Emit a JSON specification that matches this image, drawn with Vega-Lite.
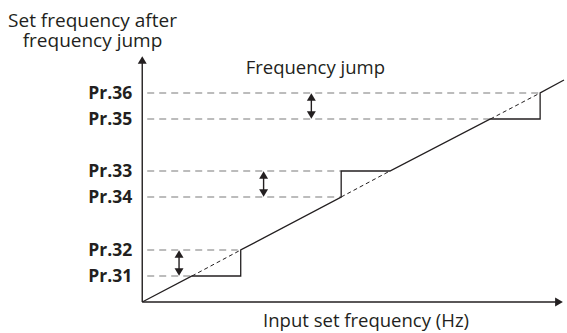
{
  "$schema": "https://vega.github.io/schema/vega-lite/v6.json",
  "width": 567,
  "height": 333,
  "autosize": {"type": "fit", "contains": "padding"},
  "padding": 0,
  "background": "white",
  "config": {"view": {"stroke": null}},
  "encoding": {
    "x": {"type": "quantitative", "scale": {"domain": [-143, 424], "nice": false, "zero": false}, "axis": null},
    "y": {"type": "quantitative", "scale": {"domain": [-31, 302], "nice": false, "zero": false}, "axis": null}
  },
  "layer": [
    {
      "data": {"values": [
        {"label": "Pr.36", "y": 209, "x0": 5, "x1": 400},
        {"label": "Pr.35", "y": 183, "x0": 5, "x1": 350},
        {"label": "Pr.33", "y": 131, "x0": 5, "x1": 200},
        {"label": "Pr.34", "y": 105, "x0": 5, "x1": 200},
        {"label": "Pr.32", "y": 52, "x0": 5, "x1": 96},
        {"label": "Pr.31", "y": 26, "x0": 5, "x1": 50}
      ]},
      "mark": {"type": "rule", "color": "#7a7a7a", "strokeWidth": 1.2, "strokeDash": [7, 5]},
      "encoding": {"x": {"field": "x0"}, "x2": {"field": "x1"}, "y": {"field": "y"}}
    },
    {
      "data": {"values": [
        {"label": "Pr.36", "y": 209},
        {"label": "Pr.35", "y": 183},
        {"label": "Pr.33", "y": 131},
        {"label": "Pr.34", "y": 105},
        {"label": "Pr.32", "y": 52},
        {"label": "Pr.31", "y": 26}
      ]},
      "mark": {"type": "text", "align": "right", "baseline": "middle", "font": "Open Sans", "fontWeight": "bold", "fontSize": 17.5, "color": "#231f20", "dy": 1},
      "encoding": {"x": {"datum": -10}, "y": {"field": "y"}, "text": {"field": "label"}}
    },
    {
      "data": {"values": [
        {"x": 50, "y": 26, "x2": 99, "y2": 52},
        {"x": 200, "y": 105, "x2": 249, "y2": 131},
        {"x": 350, "y": 183, "x2": 400, "y2": 209}
      ]},
      "mark": {"type": "rule", "color": "#231f20", "strokeWidth": 1, "strokeDash": [4, 3]},
      "encoding": {"x": {"field": "x"}, "y": {"field": "y"}, "x2": {"field": "x2"}, "y2": {"field": "y2"}}
    },
    {
      "data": {"values": [
        {"i": 0, "x": 0, "y": 0},
        {"i": 1, "x": 50, "y": 26},
        {"i": 2, "x": 99, "y": 26},
        {"i": 3, "x": 99, "y": 52},
        {"i": 4, "x": 200, "y": 105},
        {"i": 5, "x": 200, "y": 131},
        {"i": 6, "x": 249, "y": 131},
        {"i": 7, "x": 350, "y": 183},
        {"i": 8, "x": 400, "y": 183},
        {"i": 9, "x": 400, "y": 209},
        {"i": 10, "x": 424, "y": 222}
      ]},
      "mark": {"type": "line", "color": "#231f20", "strokeWidth": 1.3},
      "encoding": {"x": {"field": "x"}, "y": {"field": "y"}, "order": {"field": "i"}}
    },
    {
      "data": {"values": [
        {"x": 0, "y": 0, "x2": 0, "y2": 240},
        {"x": 0, "y": 0, "x2": 418, "y2": 0},
        {"x": 37, "y": 29, "x2": 37, "y2": 49},
        {"x": 122, "y": 108, "x2": 122, "y2": 128},
        {"x": 170, "y": 186, "x2": 170, "y2": 206}
      ]},
      "mark": {"type": "rule", "color": "#231f20", "strokeWidth": 1.4},
      "encoding": {"x": {"field": "x"}, "y": {"field": "y"}, "x2": {"field": "x2"}, "y2": {"field": "y2"}}
    },
    {
      "data": {"values": [
        {"x": 0, "y": 242, "s": "triangle-up"},
        {"x": 419, "y": 0, "s": "triangle-right"},
        {"x": 37, "y": 48, "s": "triangle-up"},
        {"x": 37, "y": 30, "s": "triangle-down"},
        {"x": 122, "y": 127, "s": "triangle-up"},
        {"x": 122, "y": 109, "s": "triangle-down"},
        {"x": 170, "y": 205, "s": "triangle-up"},
        {"x": 170, "y": 187, "s": "triangle-down"}
      ]},
      "mark": {"type": "point", "filled": true, "color": "#231f20", "size": 80, "opacity": 1},
      "encoding": {"x": {"field": "x"}, "y": {"field": "y"}, "shape": {"field": "s", "type": "nominal", "scale": null, "legend": null}}
    },
    {
      "data": {"values": [
        {"t": ["Set frequency after", "frequency jump"], "x": -50, "y": 275}
      ]},
      "mark": {"type": "text", "align": "center", "baseline": "alphabetic", "font": "Open Sans", "fontSize": 19, "lineHeight": 20, "color": "#231f20"},
      "encoding": {"x": {"field": "x"}, "y": {"field": "y"}, "text": {"field": "t"}}
    },
    {
      "data": {"values": [
        {"t": "Frequency jump", "x": 174, "y": 228},
        {"t": "Input set frequency (Hz)", "x": 225, "y": -25}
      ]},
      "mark": {"type": "text", "align": "center", "baseline": "alphabetic", "font": "Open Sans", "fontSize": 18.5, "color": "#231f20"},
      "encoding": {"x": {"field": "x"}, "y": {"field": "y"}, "text": {"field": "t"}}
    }
  ]
}
